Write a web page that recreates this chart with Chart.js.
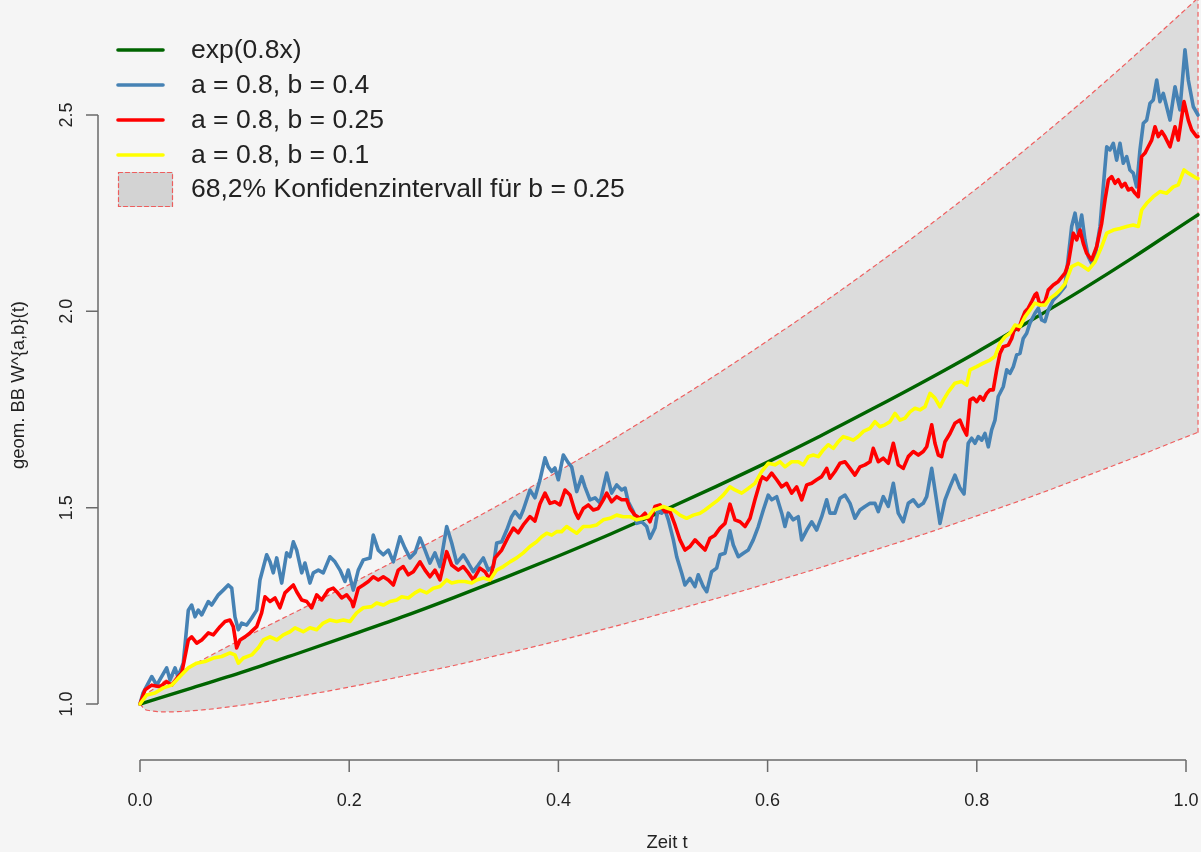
<!DOCTYPE html>
<html>
<head>
<meta charset="utf-8">
<title>geom. BB</title>
<script src="https://cdn.jsdelivr.net/npm/chart.js@4.4.1/dist/chart.umd.min.js"></script>
<style>
  html, body { margin: 0; padding: 0; background: #f5f5f5; }
  #wrap { width: 1201px; height: 852px; }
</style>
</head>
<body>
<div id="wrap"><canvas id="myChart" width="1201" height="852"></canvas></div>
<script>
// values
const xTicks = [0, 0.2, 0.4, 0.6, 0.8, 1.0];
const yTicks = [1.0, 1.5, 2.0, 2.5];

const legendLabels = ['exp(0.8x)', 'a = 0.8, b = 0.4', 'a = 0.8, b = 0.25', 'a = 0.8, b = 0.1', '68,2% Konfidenzintervall für b = 0.25'];

// confidence band for b = 0.25
const bandT = [0, 0.005, 0.01, 0.02, 0.03, 0.04, 0.06, 0.08, 0.1, 0.125, 0.15, 0.2, 0.25, 0.3, 0.35, 0.4, 0.45, 0.5, 0.55, 0.6, 0.65, 0.7, 0.75, 0.8, 0.85, 0.9, 0.95, 1.0, 1.0115];
const bandUpper = [1, 1.022, 1.033, 1.052, 1.069, 1.084, 1.113, 1.141, 1.169, 1.203, 1.236, 1.304, 1.373, 1.444, 1.517, 1.593, 1.671, 1.753, 1.837, 1.925, 2.016, 2.111, 2.210, 2.313, 2.420, 2.532, 2.649, 2.770, 2.798];
const bandLower = [1, 0.986, 0.983, 0.980, 0.980, 0.981, 0.985, 0.991, 0.998, 1.008, 1.019, 1.043, 1.070, 1.098, 1.129, 1.161, 1.195, 1.231, 1.268, 1.307, 1.347, 1.390, 1.433, 1.479, 1.526, 1.576, 1.627, 1.680, 1.692];

// exp(0.8x)
const expT = [0, 0.05, 0.1, 0.15, 0.2, 0.25, 0.3, 0.35, 0.4, 0.45, 0.5, 0.55, 0.6, 0.65, 0.7, 0.75, 0.8, 0.85, 0.9, 0.95, 1.0, 1.0115];
const expV = [1, 1.041, 1.083, 1.128, 1.174, 1.221, 1.271, 1.323, 1.377, 1.433, 1.492, 1.553, 1.616, 1.682, 1.751, 1.822, 1.896, 1.974, 2.054, 2.138, 2.226, 2.246];

// a = 0.8, b = 0.4  [t, value]
const pathB04 = [[0,1],[0.0029,1.028],[0.0112,1.070],[0.0160,1.048],[0.0255,1.092],[0.0287,1.061],[0.0335,1.092],[0.0363,1.069],[0.0414,1.104],[0.0462,1.239],[0.0494,1.252],[0.0526,1.222],[0.0557,1.239],[0.0590,1.227],[0.0653,1.261],[0.0685,1.252],[0.0749,1.278],[0.0796,1.290],[0.0844,1.303],[0.0877,1.295],[0.0908,1.222],[0.0940,1.189],[0.0972,1.206],[0.1020,1.201],[0.1068,1.219],[0.1116,1.239],[0.1147,1.316],[0.1211,1.380],[0.1243,1.362],[0.1274,1.334],[0.1307,1.372],[0.1355,1.308],[0.1402,1.385],[0.1434,1.375],[0.1466,1.413],[0.1498,1.392],[0.1546,1.334],[0.1577,1.359],[0.1625,1.308],[0.1657,1.334],[0.1705,1.341],[0.1752,1.334],[0.1816,1.375],[0.1864,1.362],[0.1912,1.341],[0.1960,1.312],[0.1991,1.341],[0.2039,1.290],[0.2087,1.341],[0.2135,1.367],[0.2199,1.372],[0.2230,1.430],[0.2278,1.392],[0.2326,1.380],[0.2374,1.392],[0.2422,1.362],[0.2486,1.426],[0.2533,1.397],[0.2581,1.372],[0.2629,1.385],[0.2677,1.423],[0.2725,1.392],[0.2772,1.359],[0.2820,1.385],[0.2868,1.350],[0.2932,1.452],[0.2980,1.410],[0.3028,1.359],[0.3091,1.380],[0.3139,1.359],[0.3186,1.337],[0.3234,1.354],[0.3282,1.372],[0.3330,1.341],[0.3378,1.350],[0.3410,1.410],[0.3458,1.413],[0.3506,1.443],[0.3553,1.477],[0.3585,1.490],[0.3633,1.474],[0.3664,1.494],[0.3728,1.545],[0.3776,1.525],[0.3824,1.571],[0.3872,1.627],[0.3903,1.604],[0.3936,1.592],[0.3967,1.601],[0.3999,1.571],[0.4047,1.634],[0.4095,1.614],[0.4127,1.604],[0.4175,1.541],[0.4223,1.579],[0.4254,1.553],[0.4302,1.520],[0.4350,1.525],[0.4398,1.512],[0.4429,1.550],[0.4462,1.588],[0.4509,1.537],[0.4557,1.558],[0.4605,1.545],[0.4637,1.550],[0.4668,1.515],[0.4716,1.490],[0.4748,1.460],[0.4796,1.464],[0.4844,1.452],[0.4876,1.422],[0.4923,1.448],[0.4955,1.498],[0.4987,1.486],[0.5019,1.494],[0.5051,1.469],[0.5099,1.418],[0.5131,1.375],[0.5179,1.333],[0.5210,1.303],[0.5258,1.320],[0.5306,1.299],[0.5337,1.329],[0.5385,1.299],[0.5418,1.286],[0.5465,1.337],[0.5513,1.346],[0.5545,1.380],[0.5593,1.384],[0.5640,1.441],[0.5672,1.405],[0.5720,1.375],[0.5768,1.384],[0.5815,1.392],[0.5863,1.418],[0.5911,1.452],[0.5959,1.494],[0.6006,1.532],[0.6039,1.520],[0.6087,1.528],[0.6135,1.486],[0.6166,1.452],[0.6198,1.486],[0.6245,1.469],[0.6293,1.477],[0.6325,1.418],[0.6374,1.443],[0.6421,1.464],[0.6469,1.443],[0.6517,1.477],[0.6565,1.520],[0.6596,1.486],[0.6644,1.486],[0.6692,1.524],[0.6740,1.532],[0.6788,1.511],[0.6835,1.473],[0.6883,1.494],[0.6931,1.503],[0.6979,1.511],[0.7027,1.511],[0.7058,1.490],[0.7106,1.528],[0.7154,1.503],[0.7202,1.562],[0.7249,1.486],[0.7297,1.464],[0.7345,1.511],[0.7393,1.520],[0.7441,1.503],[0.7488,1.511],[0.7521,1.528],[0.7569,1.600],[0.7600,1.545],[0.7648,1.460],[0.7696,1.520],[0.7744,1.553],[0.7791,1.583],[0.7839,1.550],[0.7878,1.535],[0.7918,1.664],[0.7951,1.677],[0.7983,1.664],[0.8014,1.681],[0.8047,1.672],[0.8078,1.689],[0.8110,1.655],[0.8142,1.698],[0.8174,1.723],[0.8205,1.783],[0.8253,1.808],[0.8286,1.851],[0.8317,1.842],[0.8349,1.859],[0.8381,1.889],[0.8413,1.893],[0.8444,1.931],[0.8477,1.944],[0.8508,1.970],[0.8556,1.995],[0.8588,2.008],[0.8620,1.978],[0.8652,1.974],[0.8683,2.003],[0.8731,2.029],[0.8779,2.042],[0.8843,2.063],[0.8875,2.139],[0.8907,2.216],[0.8939,2.250],[0.8970,2.199],[0.9003,2.245],[0.9034,2.182],[0.9066,2.139],[0.9098,2.122],[0.9130,2.139],[0.9178,2.216],[0.9209,2.317],[0.9242,2.419],[0.9273,2.411],[0.9305,2.428],[0.9337,2.385],[0.9369,2.428],[0.9400,2.377],[0.9433,2.394],[0.9464,2.360],[0.9496,2.352],[0.9528,2.317],[0.9560,2.411],[0.9592,2.479],[0.9624,2.487],[0.9656,2.530],[0.9687,2.538],[0.9720,2.589],[0.9751,2.534],[0.9783,2.555],[0.9815,2.521],[0.9847,2.487],[0.9895,2.572],[0.9942,2.513],[0.9990,2.666],[1.0022,2.589],[1.0070,2.521],[1.0115,2.500]];

// a = 0.8, b = 0.25
const pathB025 = [[0,1],[0.0048,1.036],[0.0112,1.048],[0.0191,1.044],[0.0255,1.057],[0.0303,1.048],[0.0366,1.070],[0.0399,1.079],[0.0462,1.163],[0.0494,1.171],[0.0542,1.155],[0.0590,1.163],[0.0653,1.181],[0.0701,1.176],[0.0765,1.197],[0.0813,1.210],[0.0860,1.214],[0.0892,1.197],[0.0924,1.143],[0.0956,1.163],[0.1004,1.171],[0.1052,1.181],[0.1116,1.197],[0.1163,1.232],[0.1195,1.273],[0.1243,1.261],[0.1291,1.270],[0.1338,1.245],[0.1386,1.283],[0.1434,1.295],[0.1466,1.303],[0.1498,1.286],[0.1546,1.265],[0.1594,1.261],[0.1641,1.245],[0.1689,1.278],[0.1737,1.265],[0.1800,1.290],[0.1848,1.295],[0.1880,1.286],[0.1928,1.270],[0.1976,1.278],[0.2024,1.261],[0.2039,1.248],[0.2087,1.295],[0.2135,1.303],[0.2183,1.312],[0.2230,1.324],[0.2278,1.316],[0.2326,1.324],[0.2374,1.316],[0.2422,1.303],[0.2469,1.341],[0.2517,1.350],[0.2565,1.329],[0.2613,1.337],[0.2677,1.362],[0.2725,1.341],[0.2772,1.324],[0.2820,1.341],[0.2868,1.316],[0.2932,1.388],[0.2980,1.354],[0.3043,1.341],[0.3091,1.350],[0.3139,1.334],[0.3186,1.316],[0.3250,1.346],[0.3298,1.337],[0.3346,1.316],[0.3394,1.372],[0.3458,1.392],[0.3521,1.426],[0.3569,1.448],[0.3616,1.436],[0.3664,1.456],[0.3728,1.477],[0.3776,1.466],[0.3824,1.510],[0.3872,1.537],[0.3920,1.511],[0.3967,1.515],[0.4015,1.507],[0.4063,1.545],[0.4111,1.532],[0.4159,1.490],[0.4190,1.473],[0.4238,1.498],[0.4286,1.507],[0.4334,1.494],[0.4381,1.498],[0.4429,1.520],[0.4462,1.537],[0.4509,1.515],[0.4557,1.528],[0.4605,1.520],[0.4653,1.520],[0.4684,1.498],[0.4732,1.481],[0.4780,1.473],[0.4828,1.486],[0.4876,1.464],[0.4923,1.503],[0.4971,1.507],[0.5019,1.490],[0.5067,1.490],[0.5115,1.456],[0.5162,1.418],[0.5210,1.392],[0.5258,1.401],[0.5306,1.418],[0.5354,1.405],[0.5402,1.392],[0.5449,1.422],[0.5497,1.430],[0.5545,1.448],[0.5593,1.460],[0.5640,1.509],[0.5688,1.469],[0.5736,1.464],[0.5784,1.452],[0.5832,1.473],[0.5879,1.520],[0.5943,1.579],[0.5991,1.571],[0.6039,1.588],[0.6087,1.571],[0.6135,1.553],[0.6182,1.562],[0.6230,1.537],[0.6278,1.553],[0.6326,1.520],[0.6374,1.558],[0.6421,1.562],[0.6469,1.571],[0.6517,1.579],[0.6565,1.600],[0.6596,1.575],[0.6644,1.592],[0.6692,1.613],[0.6740,1.617],[0.6788,1.600],[0.6835,1.583],[0.6883,1.604],[0.6931,1.609],[0.6979,1.617],[0.7010,1.651],[0.7058,1.617],[0.7106,1.626],[0.7154,1.613],[0.7202,1.664],[0.7249,1.609],[0.7297,1.600],[0.7345,1.630],[0.7393,1.643],[0.7441,1.634],[0.7488,1.643],[0.7521,1.655],[0.7569,1.711],[0.7600,1.664],[0.7632,1.634],[0.7664,1.630],[0.7696,1.668],[0.7744,1.689],[0.7791,1.715],[0.7839,1.723],[0.7871,1.702],[0.7903,1.685],[0.7935,1.774],[0.7966,1.779],[0.7999,1.770],[0.8031,1.783],[0.8062,1.774],[0.8094,1.791],[0.8126,1.800],[0.8157,1.800],[0.8190,1.851],[0.8222,1.893],[0.8253,1.910],[0.8301,1.914],[0.8334,1.931],[0.8365,1.961],[0.8397,1.953],[0.8429,1.978],[0.8461,1.999],[0.8492,2.008],[0.8525,2.025],[0.8556,2.042],[0.8572,2.046],[0.8604,2.016],[0.8652,2.025],[0.8683,2.054],[0.8731,2.067],[0.8779,2.076],[0.8843,2.097],[0.8875,2.122],[0.8923,2.199],[0.8955,2.182],[0.8987,2.207],[0.9018,2.173],[0.9050,2.148],[0.9098,2.131],[0.9146,2.165],[0.9194,2.224],[0.9226,2.284],[0.9258,2.335],[0.9290,2.343],[0.9321,2.326],[0.9353,2.335],[0.9385,2.317],[0.9417,2.326],[0.9448,2.309],[0.9481,2.313],[0.9512,2.301],[0.9544,2.292],[0.9576,2.394],[0.9608,2.403],[0.9639,2.419],[0.9672,2.436],[0.9704,2.470],[0.9735,2.445],[0.9768,2.458],[0.9799,2.445],[0.9847,2.419],[0.9895,2.470],[0.9926,2.436],[0.9981,2.534],[1.0022,2.487],[1.0054,2.462],[1.0102,2.445],[1.0115,2.445]];

// a = 0.8, b = 0.1
const pathB01 = [[0,1],[0.0064,1.023],[0.0143,1.028],[0.0223,1.041],[0.0303,1.048],[0.0382,1.070],[0.0462,1.092],[0.0542,1.104],[0.0621,1.108],[0.0701,1.117],[0.0781,1.121],[0.0860,1.130],[0.0908,1.125],[0.0940,1.104],[0.0988,1.117],[0.1068,1.125],[0.1131,1.143],[0.1179,1.163],[0.1243,1.171],[0.1307,1.163],[0.1370,1.176],[0.1434,1.184],[0.1482,1.194],[0.1561,1.184],[0.1625,1.194],[0.1689,1.189],[0.1752,1.206],[0.1816,1.214],[0.1880,1.210],[0.1944,1.214],[0.2007,1.210],[0.2071,1.232],[0.2135,1.245],[0.2215,1.248],[0.2263,1.257],[0.2326,1.252],[0.2390,1.261],[0.2454,1.265],[0.2502,1.273],[0.2565,1.270],[0.2629,1.283],[0.2677,1.290],[0.2741,1.283],[0.2804,1.295],[0.2868,1.299],[0.2932,1.316],[0.2980,1.308],[0.3043,1.312],[0.3107,1.312],[0.3171,1.308],[0.3219,1.316],[0.3282,1.321],[0.3346,1.316],[0.3410,1.341],[0.3473,1.350],[0.3537,1.362],[0.3601,1.372],[0.3664,1.385],[0.3728,1.401],[0.3792,1.413],[0.3840,1.426],[0.3888,1.435],[0.3936,1.430],[0.3984,1.439],[0.4031,1.439],[0.4079,1.452],[0.4127,1.443],[0.4175,1.435],[0.4238,1.452],[0.4302,1.452],[0.4366,1.456],[0.4429,1.469],[0.4493,1.473],[0.4557,1.481],[0.4620,1.477],[0.4684,1.477],[0.4748,1.469],[0.4812,1.473],[0.4859,1.477],[0.4907,1.494],[0.4955,1.498],[0.5003,1.503],[0.5051,1.498],[0.5099,1.494],[0.5162,1.481],[0.5226,1.473],[0.5290,1.481],[0.5354,1.486],[0.5402,1.494],[0.5465,1.507],[0.5529,1.520],[0.5576,1.532],[0.5640,1.553],[0.5688,1.545],[0.5752,1.537],[0.5815,1.549],[0.5879,1.562],[0.5943,1.592],[0.6006,1.613],[0.6070,1.609],[0.6118,1.617],[0.6166,1.604],[0.6230,1.617],[0.6293,1.617],[0.6341,1.609],[0.6389,1.630],[0.6437,1.634],[0.6485,1.630],[0.6532,1.647],[0.6580,1.660],[0.6628,1.651],[0.6676,1.668],[0.6724,1.681],[0.6771,1.677],[0.6819,1.672],[0.6867,1.681],[0.6915,1.694],[0.6979,1.702],[0.7027,1.719],[0.7074,1.706],[0.7122,1.711],[0.7170,1.719],[0.7218,1.740],[0.7266,1.723],[0.7314,1.728],[0.7361,1.744],[0.7409,1.753],[0.7457,1.749],[0.7505,1.757],[0.7553,1.791],[0.7600,1.779],[0.7648,1.757],[0.7680,1.774],[0.7728,1.795],[0.7791,1.817],[0.7855,1.821],[0.7903,1.812],[0.7935,1.851],[0.7999,1.859],[0.8062,1.868],[0.8126,1.876],[0.8174,1.885],[0.8222,1.919],[0.8270,1.935],[0.8317,1.944],[0.8365,1.965],[0.8413,1.961],[0.8461,1.986],[0.8508,2.003],[0.8556,2.021],[0.8604,2.016],[0.8652,2.016],[0.8700,2.033],[0.8748,2.042],[0.8795,2.054],[0.8843,2.070],[0.8907,2.114],[0.8970,2.122],[0.9018,2.114],[0.9066,2.105],[0.9130,2.126],[0.9194,2.165],[0.9242,2.199],[0.9305,2.207],[0.9369,2.211],[0.9433,2.216],[0.9496,2.220],[0.9544,2.216],[0.9576,2.258],[0.9624,2.275],[0.9687,2.292],[0.9751,2.305],[0.9815,2.301],[0.9878,2.317],[0.9926,2.322],[0.9981,2.360],[1.0022,2.352],[1.0102,2.339],[1.0115,2.338]];

const toPoints = (ts, vs) => ts.map((t, i) => ({ x: t, y: vs[i] }));
const pairPoints = arr => arr.map(p => ({ x: p[0], y: p[1] }));

const bandRed = 'rgba(240, 80, 80, 0.9)';
const last = bandT.length - 1;

// R-style background
const bgPlugin = {
    id: 'bg',
    beforeDraw(chart) {
        const c = chart.ctx;
        c.save();
        c.fillStyle = '#f5f5f5';
        c.fillRect(0, 0, chart.width, chart.height);
        c.restore();
    }
};

// R-style axes: lines only across the tick range, ticks outside
const axesPlugin = {
    id: 'rAxes',
    afterDraw(chart) {
        const c = chart.ctx;
        const xs = chart.scales.x, ys = chart.scales.y;
        const area = chart.chartArea;
        c.save();
        c.strokeStyle = '#6a6a6a';
        c.lineWidth = 1.5;
        c.fillStyle = '#222';
        c.font = '18px "Liberation Sans", Arial, sans-serif';

        // x axis
        const yb = area.bottom;
        c.beginPath();
        c.moveTo(xs.getPixelForValue(xTicks[0]), yb);
        c.lineTo(xs.getPixelForValue(xTicks[xTicks.length - 1]), yb);
        xTicks.forEach(t => {
            const px = xs.getPixelForValue(t);
            c.moveTo(px, yb);
            c.lineTo(px, yb + 12);
        });
        c.stroke();
        c.textAlign = 'center';
        c.textBaseline = 'middle';
        xTicks.forEach(t => {
            c.fillText(t.toFixed(1), xs.getPixelForValue(t), yb + 41);
        });

        // y axis
        const xl = area.left;
        c.beginPath();
        c.moveTo(xl, ys.getPixelForValue(yTicks[0]));
        c.lineTo(xl, ys.getPixelForValue(yTicks[yTicks.length - 1]));
        yTicks.forEach(v => {
            const py = ys.getPixelForValue(v);
            c.moveTo(xl, py);
            c.lineTo(xl - 12, py);
        });
        c.stroke();
        yTicks.forEach(v => {
            c.save();
            c.translate(xl - 31, ys.getPixelForValue(v));
            c.rotate(-Math.PI / 2);
            c.fillText(v.toFixed(1), 0, 0);
            c.restore();
        });

        // axis titles
        c.font = '18.5px "Liberation Sans", Arial, sans-serif';
        c.fillText('Zeit t', 667, 843);
        c.save();
        c.translate(19, 385);
        c.rotate(-Math.PI / 2);
        c.fillText('geom. BB W^{a,b}(t)', 0, 0);
        c.restore();
        c.restore();
    }
};

// legend without box, top left
const legendPlugin = {
    id: 'rLegend',
    afterDraw(chart) {
        const c = chart.ctx;
        const colors = ['#006400', '#4682b4', '#ff0000', '#ffff00'];
        const rows = [50, 85, 120, 155, 189];
        c.save();
        c.font = '26.5px "Liberation Sans", Arial, sans-serif';
        c.fillStyle = '#222';
        c.textAlign = 'left';
        c.textBaseline = 'middle';
        c.lineCap = 'round';
        colors.forEach((col, i) => {
            c.strokeStyle = col;
            c.lineWidth = 3.6;
            c.beginPath();
            c.moveTo(118, rows[i]);
            c.lineTo(163, rows[i]);
            c.stroke();
        });
        c.fillStyle = '#d3d3d3';
        c.fillRect(118, 172, 55, 35);
        c.strokeStyle = bandRed;
        c.lineWidth = 1.2;
        c.setLineDash([4, 3]);
        c.strokeRect(118.5, 172.5, 54, 34);
        c.setLineDash([]);
        c.fillStyle = '#222';
        legendLabels.forEach((txt, i) => c.fillText(txt, 191, rows[i] + 1));
        c.restore();
    }
};

const ctx = document.getElementById('myChart').getContext('2d');
const myChart = new Chart(ctx, {
    type: 'scatter',
    data: {
        datasets: [
            { label: legendLabels[3], data: pairPoints(pathB01), borderColor: '#ffff00', borderWidth: 3.6 },
            { label: legendLabels[2], data: pairPoints(pathB025), borderColor: '#ff0000', borderWidth: 3.6 },
            { label: legendLabels[1], data: pairPoints(pathB04), borderColor: '#4682b4', borderWidth: 3.6 },
            { label: legendLabels[0], data: toPoints(expT, expV), borderColor: '#006400', borderWidth: 3.4, cubicInterpolationMode: 'monotone' },
            { label: 'edge', data: [{ x: bandT[last], y: bandLower[last] }, { x: bandT[last], y: bandUpper[last] }],
              borderColor: bandRed, borderWidth: 1.2, borderDash: [4, 4] },
            { label: 'lower', data: toPoints(bandT, bandLower), borderColor: bandRed, borderWidth: 1.2, borderDash: [4, 4],
              cubicInterpolationMode: 'monotone' },
            { label: legendLabels[4], data: toPoints(bandT, bandUpper), borderColor: bandRed, borderWidth: 1.2, borderDash: [4, 4],
              backgroundColor: '#dcdcdc', fill: '-1', cubicInterpolationMode: 'monotone' }
        ]
    },
    options: {
        responsive: false,
        animation: false,
        devicePixelRatio: 1,
        showLine: true,
        layout: { padding: { left: 98, right: 0, top: 0, bottom: 92 } },
        elements: {
            point: { radius: 0, hoverRadius: 0 },
            line: { borderJoinStyle: 'round', borderCapStyle: 'round', fill: false }
        },
        scales: {
            x: { type: 'linear', display: false, min: -0.04015, max: 1.01434 },
            y: { type: 'linear', display: false, min: 0.85739, max: 2.79284 }
        },
        plugins: {
            legend: { display: false },
            tooltip: { enabled: false }
        }
    },
    plugins: [bgPlugin, axesPlugin, legendPlugin]
});
</script>
</body>
</html>
